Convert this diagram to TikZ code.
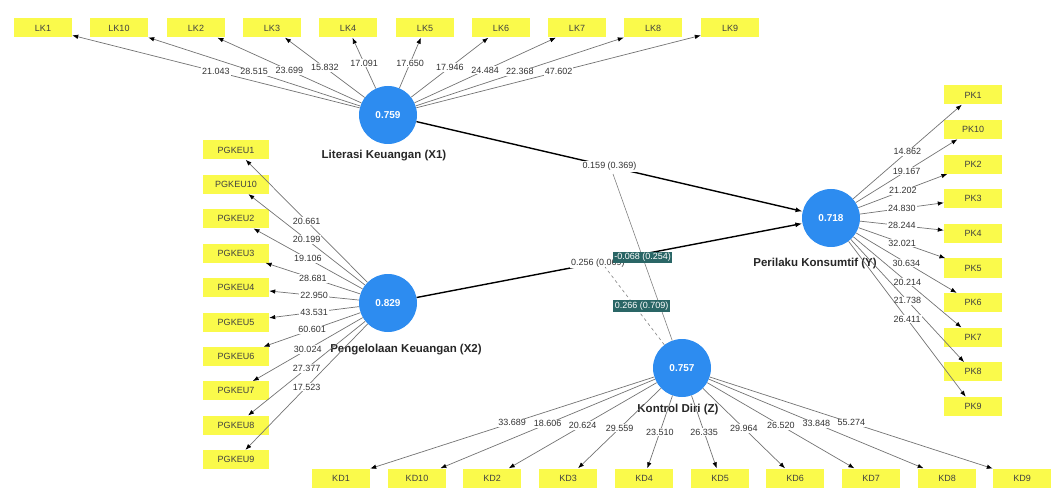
\documentclass[tikz,border=0pt]{standalone}
\usepackage{fontspec}
\setmainfont{Liberation Sans}
\usetikzlibrary{arrows.meta}

\definecolor{indyellow}{RGB}{250,250,75}
\definecolor{latblue}{RGB}{45,140,240}
\definecolor{modteal}{RGB}{42,102,102}

\tikzset{
  indbox/.style={fill=indyellow, minimum width=58pt, minimum height=19pt, inner sep=0pt, font=\fontsize{9}{10}\selectfont, text=black!75},
  latent/.style={circle, fill=latblue, minimum size=58pt, inner sep=0pt, text=white, font=\bfseries\fontsize{10}{11}\selectfont},
  latname/.style={font=\bfseries\fontsize{11.5}{12}\selectfont, text=black!85},
  load/.style={-{Latex[length=6pt,width=4.5pt,color=black]}, draw=black!55, line width=0.7pt},
  loadval/.style={fill=white, inner sep=1pt, font=\fontsize{9}{10}\selectfont, text=black!80},
  pathc/.style={-{Latex[length=7pt,width=5pt]}, line width=1.4pt},
  modline/.style={draw=black!50, line width=0.6pt},
  modval/.style={fill=modteal, text=white, inner sep=1.5pt, font=\fontsize{9}{10}\selectfont},
}

\begin{document}
\begin{tikzpicture}[x=1pt, y=-1pt]
        \useasboundingbox (0,0) rectangle (1055,489);

        % latent variables
        \node[latent] (X1) at (388,115) {0.759};
        \node[latent] (X2) at (388,303) {0.829};
        \node[latent] (Y) at (831,218) {0.718};
        \node[latent] (Z) at (682,368) {0.757};
        \node[latname] (nX1) at (384,156) {Literasi Keuangan (X1)};
        \node[latname] (nX2) at (406,350) {Pengelolaan Keuangan (X2)};
        \node[latname] (nY) at (815,264) {Perilaku Konsumtif (Y)};
        \node[latname] (nZ) at (678,410) {Kontrol Diri (Z)};

        % indicators of X1
        \node[indbox] (lk1) at (43,28) {LK1};
        \node[indbox] (lk10) at (119,28) {LK10};
        \node[indbox] (lk2) at (196,28) {LK2};
        \node[indbox] (lk3) at (272,28) {LK3};
        \node[indbox] (lk4) at (348,28) {LK4};
        \node[indbox] (lk5) at (425,28) {LK5};
        \node[indbox] (lk6) at (501,28) {LK6};
        \node[indbox] (lk7) at (577,28) {LK7};
        \node[indbox] (lk8) at (653,28) {LK8};
        \node[indbox] (lk9) at (730,28) {LK9};

        % indicators of X2
        \node[indbox, minimum width=66pt] (pg1) at (236,150) {PGKEU1};
        \node[indbox, minimum width=66pt] (pg10) at (236,184.4) {PGKEU10};
        \node[indbox, minimum width=66pt] (pg2) at (236,218.8) {PGKEU2};
        \node[indbox, minimum width=66pt] (pg3) at (236,253.2) {PGKEU3};
        \node[indbox, minimum width=66pt] (pg4) at (236,287.6) {PGKEU4};
        \node[indbox, minimum width=66pt] (pg5) at (236,322) {PGKEU5};
        \node[indbox, minimum width=66pt] (pg6) at (236,356.4) {PGKEU6};
        \node[indbox, minimum width=66pt] (pg7) at (236,390.8) {PGKEU7};
        \node[indbox, minimum width=66pt] (pg8) at (236,425.2) {PGKEU8};
        \node[indbox, minimum width=66pt] (pg9) at (236,459.6) {PGKEU9};

        % indicators of Y
        \node[indbox] (pk1) at (973,95) {PK1};
        \node[indbox] (pk10) at (973,129.6) {PK10};
        \node[indbox] (pk2) at (973,164.2) {PK2};
        \node[indbox] (pk3) at (973,198.8) {PK3};
        \node[indbox] (pk4) at (973,233.4) {PK4};
        \node[indbox] (pk5) at (973,268) {PK5};
        \node[indbox] (pk6) at (973,302.6) {PK6};
        \node[indbox] (pk7) at (973,337.2) {PK7};
        \node[indbox] (pk8) at (973,371.8) {PK8};
        \node[indbox] (pk9) at (973,406.4) {PK9};

        % indicators of Z
        \node[indbox] (kd1) at (341,478) {KD1};
        \node[indbox] (kd10) at (417,478) {KD10};
        \node[indbox] (kd2) at (492,478) {KD2};
        \node[indbox] (kd3) at (568,478) {KD3};
        \node[indbox] (kd4) at (644,478) {KD4};
        \node[indbox] (kd5) at (720,478) {KD5};
        \node[indbox] (kd6) at (795,478) {KD6};
        \node[indbox] (kd7) at (871,478) {KD7};
        \node[indbox] (kd8) at (947,478) {KD8};
        \node[indbox] (kd9) at (1022,478) {KD9};

        % outer loadings X1
        \draw[load] (X1) -- (lk1) node[midway, loadval] {21.043};
        \draw[load] (X1) -- (lk10) node[midway, loadval] {28.515};
        \draw[load] (X1) -- (lk2) node[midway, loadval] {23.699};
        \draw[load] (X1) -- (lk3) node[midway, loadval] {15.832};
        \draw[load] (X1) -- (lk4) node[midway, loadval] {17.091};
        \draw[load] (X1) -- (lk5) node[midway, loadval] {17.650};
        \draw[load] (X1) -- (lk6) node[midway, loadval] {17.946};
        \draw[load] (X1) -- (lk7) node[midway, loadval] {24.484};
        \draw[load] (X1) -- (lk8) node[midway, loadval] {22.368};
        \draw[load] (X1) -- (lk9) node[midway, loadval] {47.602};

        % outer loadings X2
        \draw[load] (X2) -- (pg1) node[midway, loadval] {20.661};
        \draw[load] (X2) -- (pg10) node[midway, loadval] {20.199};
        \draw[load] (X2) -- (pg2) node[midway, loadval] {19.106};
        \draw[load] (X2) -- (pg3) node[midway, loadval] {28.681};
        \draw[load] (X2) -- (pg4) node[midway, loadval] {22.950};
        \draw[load] (X2) -- (pg5) node[midway, loadval] {43.531};
        \draw[load] (X2) -- (pg6) node[midway, loadval] {60.601};
        \draw[load] (X2) -- (pg7) node[midway, loadval] {30.024};
        \draw[load] (X2) -- (pg8) node[midway, loadval] {27.377};
        \draw[load] (X2) -- (pg9) node[midway, loadval] {17.523};

        % outer loadings Y
        \draw[load] (Y) -- (pk1) node[midway, loadval] {14.862};
        \draw[load] (Y) -- (pk10) node[midway, loadval] {19.167};
        \draw[load] (Y) -- (pk2) node[midway, loadval] {21.202};
        \draw[load] (Y) -- (pk3) node[midway, loadval] {24.830};
        \draw[load] (Y) -- (pk4) node[midway, loadval] {28.244};
        \draw[load] (Y) -- (pk5) node[midway, loadval] {32.021};
        \draw[load] (Y) -- (pk6) node[midway, loadval] {30.634};
        \draw[load] (Y) -- (pk7) node[midway, loadval] {20.214};
        \draw[load] (Y) -- (pk8) node[midway, loadval] {21.738};
        \draw[load] (Y) -- (pk9) node[midway, loadval] {26.411};

        % outer loadings Z
        \draw[load] (Z) -- (kd1) node[midway, loadval] {33.689};
        \draw[load] (Z) -- (kd10) node[midway, loadval] {18.606};
        \draw[load] (Z) -- (kd2) node[midway, loadval] {20.624};
        \draw[load] (Z) -- (kd3) node[midway, loadval] {29.559};
        \draw[load] (Z) -- (kd4) node[midway, loadval] {23.510};
        \draw[load] (Z) -- (kd5) node[midway, loadval] {26.335};
        \draw[load] (Z) -- (kd6) node[midway, loadval] {29.964};
        \draw[load] (Z) -- (kd7) node[midway, loadval] {26.520};
        \draw[load] (Z) -- (kd8) node[midway, loadval] {33.848};
        \draw[load] (Z) -- (kd9) node[midway, loadval] {55.274};

        % structural paths
        \draw[pathc] (X1) -- (Y) node[midway, loadval] {0.159 (0.369)};
        \draw[pathc] (X2) -- (Y) node[pos=0.47, loadval] {0.256 (0.069)};

        % moderating effects of Z
        \coordinate (mx1) at (613,174);
        \coordinate (mx2) at (605,267);
        \draw[modline] (Z) -- (mx1) node[midway, modval] {-0.068 (0.254)};
        \draw[modline, dashed] (Z) -- (mx2) node[midway, xshift=7pt, modval] {0.266 (0.709)};

    \end{tikzpicture}
\end{document}
